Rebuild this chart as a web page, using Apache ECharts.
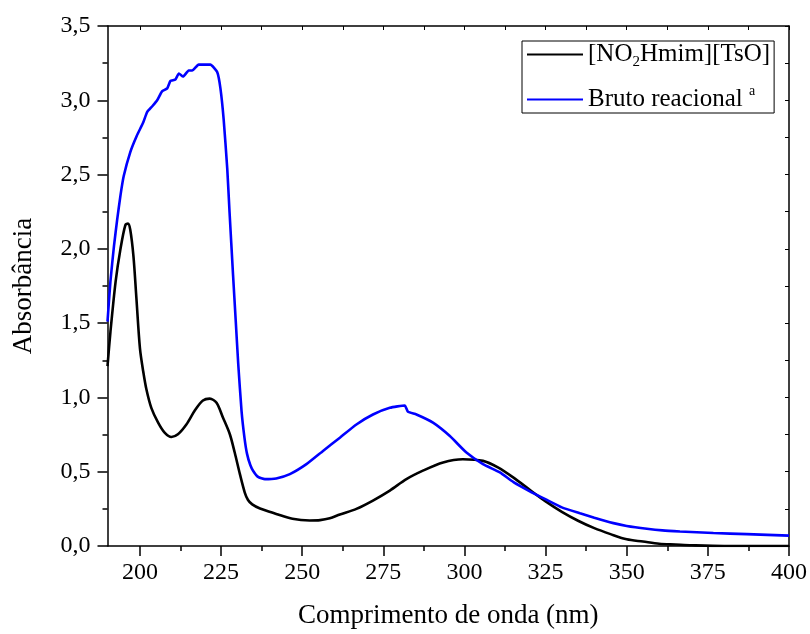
<!DOCTYPE html>
<html>
<head>
<meta charset="utf-8">
<script src="https://cdn.jsdelivr.net/npm/echarts@6/dist/echarts.min.js"></script>
<style>html,body{margin:0;padding:0;background:#fff;}#c{width:810px;height:634px;}</style>
</head>
<body>
<div id="c"></div>
<script>
// ---- data ----
const seriesNames = ['[NO2Hmim][TsO]', 'Bruto reacional a'];
const ilWavelength = [190,190.9,192.5,194,195.5,196.3,197,198,198.9,200,201,202,203.5,205.6,207.6,209.7,211.7,214.3,216.9,219.4,221.5,223.6,225.6,227.7,229.2,230.8,232.3,233.3,234.6,237,242,247,252.3,255.5,258.5,261.6,266.7,271.8,277,282.1,287.2,293.4,299.5,305.7,310.3,315.1,320,325,330,335,340,345,350,355,360,365,370,380,390,400];
const ilAbs = [1.21,1.44,1.78,2.0,2.16,2.17,2.13,1.95,1.67,1.33,1.176,1.053,0.93,0.83,0.763,0.734,0.752,0.818,0.912,0.979,0.992,0.964,0.863,0.752,0.629,0.484,0.36,0.31,0.28,0.252,0.216,0.183,0.172,0.174,0.186,0.212,0.25,0.306,0.373,0.45,0.507,0.562,0.584,0.573,0.529,0.46,0.38,0.30,0.23,0.17,0.12,0.08,0.045,0.03,0.015,0.01,0.005,0.0,0.0,0.0];
const crudeWavelength = [190,190.9,192,193,194,195,197,199,201,202.2,203.8,205.3,206.8,208.4,209.4,210.9,212,213.3,215,216.1,218.1,221.7,223.8,224.8,225.8,226.9,227.6,228.7,229.5,230.3,231.3,232.2,233,234,234.9,236.4,238.5,242,246.2,251.3,256.4,261.6,266.7,271.8,277,281.6,282.6,285.2,290.3,295.5,300.6,305.7,310.9,315.1,320,325.4,330,335.6,340,345.9,350,356.2,361,366.4,376.7,387,400];
const crudeAbs = [1.51,1.78,2.02,2.2,2.36,2.49,2.65,2.76,2.85,2.92,2.96,3.00,3.06,3.08,3.13,3.14,3.18,3.16,3.20,3.20,3.24,3.24,3.19,3.08,2.87,2.54,2.25,1.82,1.52,1.22,0.91,0.73,0.62,0.545,0.505,0.465,0.45,0.455,0.484,0.551,0.64,0.729,0.818,0.885,0.93,0.946,0.903,0.885,0.83,0.74,0.629,0.551,0.495,0.43,0.37,0.31,0.26,0.22,0.19,0.154,0.135,0.116,0.105,0.098,0.087,0.08,0.07];
const xMajorTicks = [200,225,250,275,300,325,350,375,400];
const xMinorTicks = [212.5,237.5,262.5,287.5,312.5,337.5,362.5,387.5];

const FONT = '"Liberation Serif", "Times New Roman", serif';
const pair = (xs, ys) => xs.map((x, i) => [x, ys[i]]);
const allX = xMajorTicks.concat(xMinorTicks).sort((a,b)=>a-b);

const chart = echarts.init(document.getElementById('c'), null, {renderer: 'canvas'});
const axisLine = {show: true, lineStyle: {color: '#000', width: 1.5}};
chart.setOption({
  animation: false,
  backgroundColor: '#fff',
  grid: {left: 107.5, right: 20.5, top: 26, bottom: 85, containLabel: false},
  legend: {
    left: 522, top: 41, orient: 'vertical',
    padding: [1, 4, 1, 5],
    itemGap: 15, itemWidth: 56, itemHeight: 2,
    icon: 'rect',
    borderColor: '#000', borderWidth: 1,
    selectedMode: false,
    data: seriesNames,
    formatter: function (n) {
      return n === seriesNames[0] ? '{a|[NO}{s|2}{a|Hmim][TsO]}' : '{a|Bruto reacional }{p|a}';
    },
    textStyle: {
      fontFamily: FONT, fontSize: 25, color: '#000',
      rich: {
        a: {fontFamily: FONT, fontSize: 25, color: '#000', lineHeight: 30},
        s: {fontFamily: FONT, fontSize: 15, color: '#000', lineHeight: 12, verticalAlign: 'bottom'},
        p: {fontFamily: FONT, fontSize: 14, color: '#000', lineHeight: 16, verticalAlign: 'top'}
      }
    }
  },
  xAxis: [
    {
      type: 'value', position: 'bottom', min: 190, max: 400,
      axisLine: axisLine,
      axisTick: {show: true, customValues: xMajorTicks, length: 10, lineStyle: {color: '#000', width: 1.5}},
      axisLabel: {show: true, customValues: xMajorTicks, margin: 15, fontFamily: FONT, fontSize: 24, color: '#000'},
      splitLine: {show: false},
      name: 'Comprimento de onda (nm)', nameLocation: 'middle', nameGap: 56,
      nameTextStyle: {fontFamily: FONT, fontSize: 27, color: '#000'}
    },
    {
      type: 'value', position: 'bottom', min: 190, max: 400,
      axisLine: {show: false},
      axisTick: {show: true, customValues: xMinorTicks, length: 5, lineStyle: {color: '#000', width: 1.5}},
      axisLabel: {show: false},
      splitLine: {show: false}
    },
    {
      type: 'value', position: 'top', min: 190, max: 400,
      axisLine: axisLine,
      axisTick: {show: true, inside: true, customValues: allX, length: 4, lineStyle: {color: '#000', width: 1}},
      axisLabel: {show: false},
      splitLine: {show: false}
    }
  ],
  yAxis: [
    {
      type: 'value', position: 'left', min: 0, max: 3.5, interval: 0.5,
      axisLine: axisLine,
      axisTick: {show: true, length: 10, lineStyle: {color: '#000', width: 1.5}},
      minorTick: {show: true, splitNumber: 2, length: 5, lineStyle: {color: '#000', width: 1.5}},
      axisLabel: {margin: 17, fontFamily: FONT, fontSize: 24, color: '#000',
        formatter: v => v.toFixed(1).replace('.', ',')},
      splitLine: {show: false}, minorSplitLine: {show: false},
      name: 'Absorbância', nameLocation: 'middle', nameGap: 70, nameRotate: 90,
      nameTextStyle: {fontFamily: FONT, fontSize: 27, color: '#000'}
    },
    {
      type: 'value', position: 'right', min: 0, max: 3.5, interval: 0.5,
      axisLine: axisLine,
      axisTick: {show: true, inside: true, length: 4, lineStyle: {color: '#000', width: 1}},
      minorTick: {show: true, splitNumber: 2, length: 4, lineStyle: {color: '#000', width: 1}},
      axisLabel: {show: false},
      splitLine: {show: false}, minorSplitLine: {show: false}
    }
  ],
  series: [
    {name: seriesNames[0], type: 'line', xAxisIndex: 0, yAxisIndex: 0, data: pair(ilWavelength, ilAbs),
      showSymbol: false, symbol: 'none', smooth: 0.3, lineStyle: {color: '#000', width: 2.6}, itemStyle: {color: '#000'}},
    {name: seriesNames[1], type: 'line', xAxisIndex: 0, yAxisIndex: 0, data: pair(crudeWavelength, crudeAbs),
      showSymbol: false, symbol: 'none', smooth: 0.15, lineStyle: {color: '#0000ff', width: 2.6}, itemStyle: {color: '#0000ff'}}
  ]
});
</script>
</body>
</html>
